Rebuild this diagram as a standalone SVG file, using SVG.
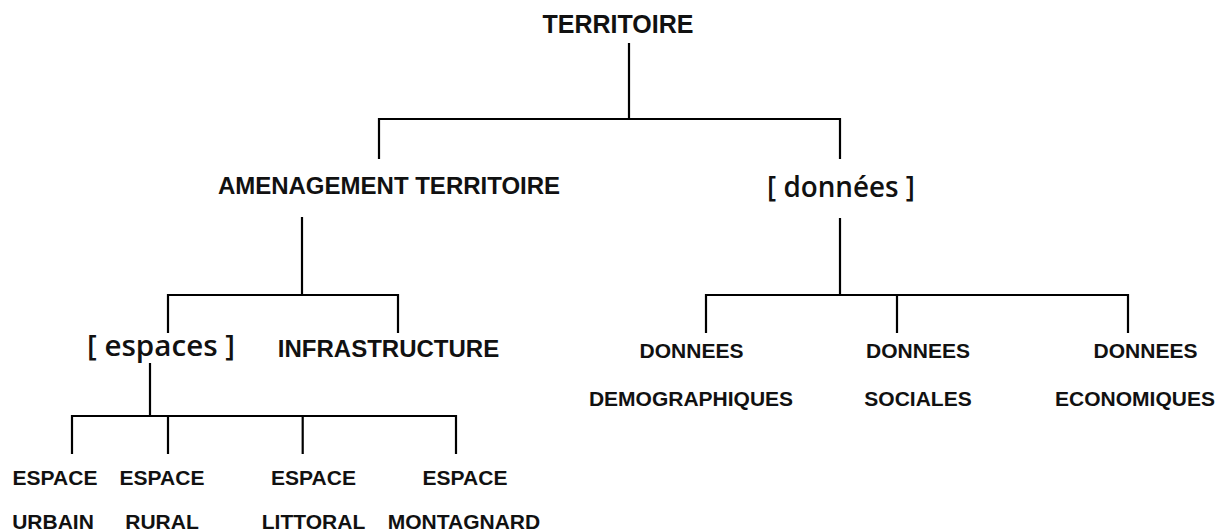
<svg xmlns="http://www.w3.org/2000/svg" width="1225" height="531" viewBox="0 0 1225 531">
<style>
text{font-family:"Liberation Sans",Arial,sans-serif;font-weight:bold;fill:#111;text-anchor:middle}
.br{font-family:"Open Sans","Liberation Sans",sans-serif;font-weight:600;font-size:29px}
.s{font-size:21px}
.c{stroke:#000;stroke-width:2.2;fill:none;stroke-linecap:butt}
</style>
<rect width="1225" height="531" fill="#fff"/>
<g id="connectors" class="c">
<path d="M629 43V119M379 119H840M379 118V159M840 118V159"/>
<path d="M302 217V295M168 295H398M168 294V333M398 294V333"/>
<path d="M150 363V416M72 416H456M72 415V454M168 415V454M302.7 415V454M456 415V454"/>
<path d="M840 218V295M706 295H1128M706 294V333M897 294V333M1128 294V333"/>
</g>
<g id="n-territoire"><text x="618" y="33" font-size="25">TERRITOIRE</text></g>
<g id="n-amenagement"><text x="389" y="194" font-size="24">AMENAGEMENT TERRITOIRE</text></g>
<g id="n-donnees"><text class="br" x="841" y="197" textLength="148" lengthAdjust="spacingAndGlyphs">[ données ]</text></g>
<g id="n-espaces"><text class="br" x="161" y="356" textLength="148" lengthAdjust="spacingAndGlyphs">[ espaces ]</text></g>
<g id="n-infrastructure"><text x="388.5" y="357" font-size="24">INFRASTRUCTURE</text></g>
<g id="n-demo"><text class="s" x="691.5" y="358">DONNEES</text><text class="s" x="691" y="406">DEMOGRAPHIQUES</text></g>
<g id="n-soc"><text class="s" x="918" y="358">DONNEES</text><text class="s" x="918" y="406">SOCIALES</text></g>
<g id="n-eco"><text class="s" x="1145.5" y="358">DONNEES</text><text class="s" x="1135" y="406">ECONOMIQUES</text></g>
<g id="n-urbain"><text class="s" x="55" y="485">ESPACE</text><text class="s" x="53" y="529">URBAIN</text></g>
<g id="n-rural"><text class="s" x="162" y="485">ESPACE</text><text class="s" x="162" y="529">RURAL</text></g>
<g id="n-littoral"><text class="s" x="313.5" y="485">ESPACE</text><text class="s" x="313.5" y="529">LITTORAL</text></g>
<g id="n-montagnard"><text class="s" x="465" y="485">ESPACE</text><text class="s" x="464" y="529">MONTAGNARD</text></g>
</svg>
